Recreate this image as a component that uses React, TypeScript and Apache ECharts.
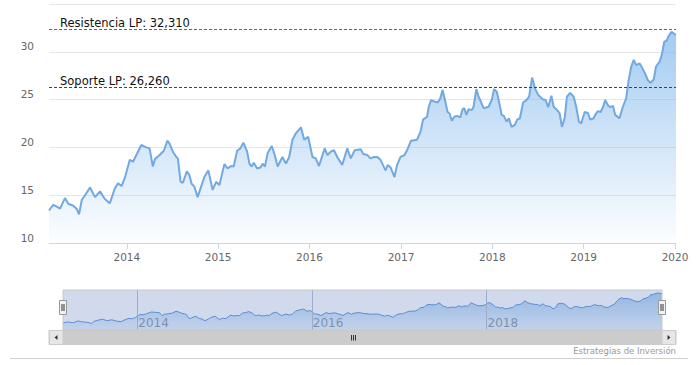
import React, { useEffect, useRef } from 'react';
import * as echarts from 'echarts';

const dates = [
  '2013-02-24','2013-03-13','2013-03-27','2013-04-09','2013-04-29','2013-05-12','2013-06-01','2013-06-15','2013-06-24','2013-07-05',
  '2013-07-18','2013-08-07','2013-08-27','2013-09-16','2013-10-05','2013-10-25','2013-11-14','2013-11-27','2013-12-11','2013-12-24',
  '2014-01-13','2014-01-26','2014-02-08','2014-02-28','2014-03-20','2014-04-02','2014-04-15','2014-04-24','2014-05-12','2014-05-29',
  '2014-06-12','2014-06-21','2014-07-04','2014-07-18','2014-07-24','2014-08-04','2014-08-13','2014-08-29','2014-09-08','2014-09-17',
  '2014-09-28','2014-10-11','2014-10-25','2014-11-07','2014-11-23','2014-12-10','2014-12-24','2015-01-06','2015-01-26','2015-02-08',
  '2015-02-22','2015-03-04','2015-03-18','2015-03-31','2015-04-12','2015-04-27','2015-05-06','2015-05-15','2015-05-23','2015-06-06',
  '2015-06-19','2015-06-28','2015-07-07','2015-07-18','2015-08-03','2015-08-13','2015-08-27','2015-09-15','2015-09-29','2015-10-12',
  '2015-10-25','2015-11-08','2015-11-28','2015-12-11','2015-12-27','2016-01-13','2016-01-26','2016-02-08','2016-03-02','2016-03-13',
  '2016-03-26','2016-04-08','2016-04-21','2016-05-11','2016-05-31','2016-06-14','2016-06-30','2016-07-24','2016-08-03','2016-08-19',
  '2016-09-01','2016-09-15','2016-09-28','2016-10-11','2016-10-31','2016-11-09','2016-11-20','2016-12-06','2016-12-16','2016-12-30',
  '2017-01-15','2017-01-25','2017-02-10','2017-03-06','2017-03-20','2017-03-30','2017-04-15','2017-04-22','2017-05-01','2017-05-14',
  '2017-05-28','2017-06-07','2017-06-16','2017-06-27','2017-07-06','2017-07-14','2017-07-23','2017-08-02','2017-08-12','2017-08-26',
  '2017-09-04','2017-09-11','2017-09-19','2017-09-28','2017-10-11','2017-10-18','2017-10-29','2017-11-07','2017-11-16','2017-11-27',
  '2017-12-17','2017-12-30','2018-01-08','2018-01-19','2018-01-29','2018-02-07','2018-02-16','2018-02-27','2018-03-08','2018-03-19',
  '2018-04-01','2018-04-10','2018-04-21','2018-05-04','2018-05-17','2018-05-28','2018-06-09','2018-06-20','2018-07-03','2018-07-23',
  '2018-08-02','2018-08-12','2018-08-25','2018-09-03','2018-09-17','2018-09-27','2018-10-06','2018-10-17','2018-10-26','2018-11-08',
  '2018-11-22','2018-12-02','2018-12-13','2018-12-22','2019-01-05','2019-01-18','2019-01-27','2019-02-10','2019-02-16','2019-02-27',
  '2019-03-10','2019-03-19','2019-03-28','2019-04-08','2019-04-18','2019-04-28','2019-05-07','2019-05-24','2019-06-06','2019-06-20',
  '2019-06-29','2019-07-10','2019-07-20','2019-07-30','2019-08-12','2019-08-21','2019-09-03','2019-09-14','2019-09-25','2019-10-08',
  '2019-10-17','2019-10-31','2019-11-09','2019-11-19','2019-11-29','2019-12-05','2019-12-18','2020-01-05',
];

const values = [
  13.4, 14.0, 13.8, 13.6, 14.7, 14.1, 13.9, 13.55, 13.0, 14.5,
  15.0, 15.8, 14.8, 15.4, 14.6, 14.15, 15.7, 16.25, 15.96, 16.8,
  18.7, 18.5, 19.2, 20.25, 20.0, 19.9, 18.0, 18.8, 19.2, 19.65,
  20.7, 20.4, 19.55, 19.0, 18.85, 16.4, 16.3, 17.5, 17.1, 16.2,
  15.9, 14.8, 15.9, 16.9, 17.6, 15.55, 16.4, 16.05, 18.25, 17.8,
  18.05, 18.0, 19.65, 19.9, 20.5, 19.55, 18.3, 18.0, 18.4, 17.8,
  17.9, 18.3, 18.0, 19.4, 20.15, 19.4, 18.0, 19.0, 18.3, 19.0,
  20.8, 21.5, 22.1, 20.8, 21.1, 19.0, 18.85, 18.05, 19.9, 19.2,
  19.55, 19.7, 19.0, 18.15, 19.9, 18.85, 19.7, 19.8, 19.3, 19.2,
  18.85, 19.0, 19.0, 18.7, 17.6, 18.15, 17.9, 16.9, 18.15, 19.0,
  19.2, 19.7, 20.7, 20.8, 21.65, 22.9, 23.2, 24.25, 24.95, 24.8,
  24.7, 25.15, 26.0, 24.8, 23.7, 23.55, 22.8, 23.2, 23.3, 23.15,
  24.0, 24.1, 23.4, 24.0, 23.9, 24.25, 26.1, 25.3, 24.8, 24.1,
  24.25, 25.0, 26.1, 25.8, 24.6, 23.4, 23.3, 22.7, 23.05, 22.15,
  22.35, 22.9, 23.05, 24.7, 24.95, 25.3, 27.3, 26.2, 25.5, 25.0,
  24.95, 24.2, 25.4, 24.25, 23.9, 23.55, 22.15, 23.05, 25.3, 25.7,
  25.3, 24.25, 22.7, 22.5, 23.7, 23.6, 22.9, 23.05, 23.4, 23.8,
  23.7, 24.2, 24.95, 24.4, 24.2, 24.35, 23.4, 23.05, 24.2, 25.15,
  26.9, 28.45, 29.15, 28.6, 28.8, 28.4, 27.75, 27.05, 26.77, 27.1,
  28.45, 28.95, 29.65, 31.05, 31.2, 31.6, 32.1, 31.75,
];

const resistance = 32.31;
const support = 26.26;
const resistanceLabel = 'Resistencia LP';
const supportLabel = 'Soporte LP';
const yMin = 10;
const yMax = 35;
const yStep = 5;
const navYears = ['2014-01-01', '2016-01-01', '2018-01-01'];
const credit = 'Estrategias de Inversión';

const fmt = (v: number) => v.toFixed(3).replace('.', ',');
const YEAR = 365 * 24 * 3600 * 1000;

export default function App() {
  const ref = useRef<HTMLDivElement>(null);
  useEffect(() => {
    const chart = echarts.init(ref.current!, null, { renderer: 'svg' });
    const data = dates.map((d, i) => [d, values[i]]);
    const font = 'DejaVu Sans';
    const navLabelYears = navYears.map((d) => Number(d.slice(0, 4)));
    const levelLine = (value: number, text: string, color: string) => ({
      type: 'line', xAxisIndex: 0, yAxisIndex: 0, data: [], z: 4, silent: true, color,
      markLine: {
        symbol: 'none', silent: true, animation: false, precision: 3,
        lineStyle: { color, type: [3, 2], width: 1, opacity: 1 },
        label: { show: true, position: 'insideStartTop', color: '#111111', fontSize: 11.5, distance: [11, 1], fontFamily: font, formatter: text },
        data: [{ yAxis: value, lineStyle: { color } }],
      },
    });
    chart.setOption({
      animation: false,
      backgroundColor: '#ffffff',
      textStyle: { fontFamily: font },
      grid: [
        { left: 49, right: 23, top: 4, height: 239 },
        { left: 63, right: 37, top: 290, height: 40 },
      ],
      xAxis: [
        {
          type: 'time', gridIndex: 0, min: 'dataMin', max: 'dataMax',
          minInterval: YEAR, splitNumber: 7,
          axisLine: { lineStyle: { color: '#ccd6eb' } },
          axisTick: { show: true, length: 6, lineStyle: { color: '#ccd6eb' } },
          splitLine: { show: false },
          axisLabel: { formatter: '{yyyy}', color: '#666666', fontSize: 10.5, margin: 8, fontFamily: font },
        },
        {
          type: 'time', gridIndex: 1, min: 'dataMin', max: 'dataMax',
          minInterval: YEAR, splitNumber: 7,
          axisLine: { show: false }, axisTick: { show: false }, splitLine: { show: false },
          axisLabel: {
            inside: true, color: '#8c8c8c', fontSize: 12, align: 'left', verticalAlign: 'bottom',
            margin: 1, padding: [0, 0, 0, 1], fontFamily: font,
            formatter: (val: number) => {
              const d = new Date(val);
              return d.getMonth() === 0 && navLabelYears.indexOf(d.getFullYear()) >= 0 ? String(d.getFullYear()) : '';
            },
          },
        },
      ],
      yAxis: [
        {
          type: 'value', gridIndex: 0, min: yMin, max: yMax, interval: yStep,
          axisLine: { show: false }, axisTick: { show: false },
          splitLine: { lineStyle: { color: '#e6e6e6' } },
          axisLabel: { showMaxLabel: false, verticalAlign: 'bottom', margin: 15, color: '#666666', fontSize: 10.5, fontFamily: font },
        },
        { type: 'value', gridIndex: 1, min: 9, max: 34, show: false },
      ],
      series: [
        {
          type: 'line', xAxisIndex: 0, yAxisIndex: 0, data, symbol: 'none', z: 3,
          lineStyle: { color: '#72a9e0', width: 2 },
          areaStyle: {
            color: new echarts.graphic.LinearGradient(0, 0, 0, 1, [
              { offset: 0, color: 'rgba(124,181,236,1)' },
              { offset: 1, color: 'rgba(124,181,236,0.03)' },
            ]),
          },
        },
        levelLine(resistance, `${resistanceLabel}: ${fmt(resistance)}`, '#2e8b2e'),
        levelLine(support, `${supportLabel}: ${fmt(support)}`, '#9e1c24'),
        {
          type: 'line', xAxisIndex: 1, yAxisIndex: 1, data, symbol: 'none',
          lineStyle: { color: '#5b8fd6', width: 1 },
          areaStyle: {
            color: new echarts.graphic.LinearGradient(0, 0, 0, 1, [
              { offset: 0, color: 'rgba(124,181,236,0.95)' },
              { offset: 1, color: 'rgba(124,181,236,0.2)' },
            ]),
          },
          markLine: {
            symbol: 'none', silent: true, animation: false, label: { show: false },
            lineStyle: { color: '#b5bccb', type: 'solid', width: 1 },
            data: navYears.map((d) => ({ xAxis: d })),
          },
        },
      ],
      graphic: [
        { type: 'rect', silent: true, z: 50, shape: { x: 63, y: 290, width: 599, height: 40 }, style: { fill: 'rgba(102,133,194,0.3)', stroke: '#c8c8c8', lineWidth: 1 } },
        { type: 'rect', silent: true, z: 60, shape: { x: 59.5, y: 300.5, width: 7, height: 14 }, style: { fill: '#f2f2f2', stroke: '#999999', lineWidth: 1 } },
        { type: 'line', silent: true, z: 61, shape: { x1: 62, y1: 304, x2: 62, y2: 311 }, style: { stroke: '#333333', lineWidth: 1 } },
        { type: 'line', silent: true, z: 61, shape: { x1: 64, y1: 304, x2: 64, y2: 311 }, style: { stroke: '#333333', lineWidth: 1 } },
        { type: 'rect', silent: true, z: 60, shape: { x: 658.5, y: 300.5, width: 7, height: 14 }, style: { fill: '#f2f2f2', stroke: '#999999', lineWidth: 1 } },
        { type: 'line', silent: true, z: 61, shape: { x1: 661, y1: 304, x2: 661, y2: 311 }, style: { stroke: '#333333', lineWidth: 1 } },
        { type: 'line', silent: true, z: 61, shape: { x1: 663, y1: 304, x2: 663, y2: 311 }, style: { stroke: '#333333', lineWidth: 1 } },
        { type: 'rect', silent: true, z: 40, shape: { x: 49, y: 330.5, width: 627, height: 14 }, style: { fill: '#f2f2f2', stroke: '#cccccc', lineWidth: 1 } },
        { type: 'rect', silent: true, z: 41, shape: { x: 63, y: 330.5, width: 599, height: 14 }, style: { fill: '#cccccc', stroke: '#cccccc', lineWidth: 1 } },
        { type: 'rect', silent: true, z: 41, shape: { x: 49.5, y: 330.5, width: 13.5, height: 14 }, style: { fill: '#e6e6e6', stroke: '#cccccc', lineWidth: 1 } },
        { type: 'rect', silent: true, z: 41, shape: { x: 662, y: 330.5, width: 13.5, height: 14 }, style: { fill: '#e6e6e6', stroke: '#cccccc', lineWidth: 1 } },
        { type: 'polygon', silent: true, z: 42, shape: { points: [[54.5, 337.5], [57.5, 335], [57.5, 340]] }, style: { fill: '#333333' } },
        { type: 'polygon', silent: true, z: 42, shape: { points: [[670.5, 337.5], [667.5, 335], [667.5, 340]] }, style: { fill: '#333333' } },
        { type: 'line', silent: true, z: 42, shape: { x1: 351.5, y1: 335, x2: 351.5, y2: 340.5 }, style: { stroke: '#333333', lineWidth: 1 } },
        { type: 'line', silent: true, z: 42, shape: { x1: 353.5, y1: 335, x2: 353.5, y2: 340.5 }, style: { stroke: '#333333', lineWidth: 1 } },
        { type: 'line', silent: true, z: 42, shape: { x1: 355.5, y1: 335, x2: 355.5, y2: 340.5 }, style: { stroke: '#333333', lineWidth: 1 } },
        { type: 'text', silent: true, z: 42, x: 676, y: 351, style: { text: credit, fill: '#999999', font: `8.5px "${font}"`, textAlign: 'right', textVerticalAlign: 'middle', align: 'right', verticalAlign: 'middle' } },
        { type: 'line', silent: true, z: 42, shape: { x1: 10, y1: 358.5, x2: 688, y2: 358.5 }, style: { stroke: '#d0d0d0', lineWidth: 1 } },
      ],
    });
    return () => chart.dispose();
  }, []);
  return <div ref={ref} style={{ position: 'fixed', left: 0, top: 0, width: 699, height: 365, background: '#fff' }} />;
}
